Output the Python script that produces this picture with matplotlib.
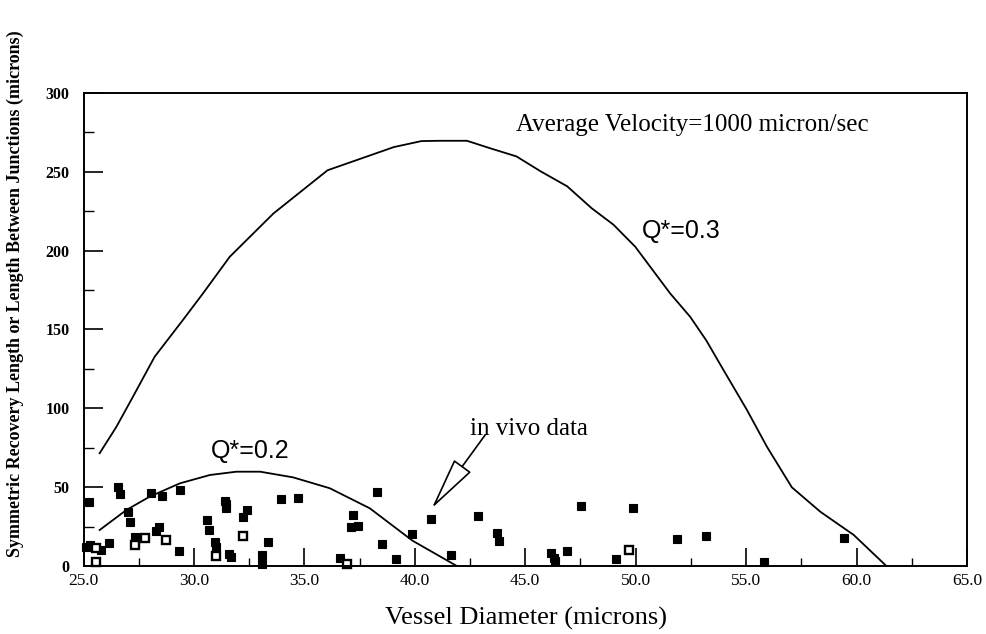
import matplotlib.pyplot as plt
from matplotlib.ticker import MultipleLocator, FormatStrFormatter

plt.rcParams['font.family'] = 'Liberation Serif'

# Q*=0.3 model curve
q3_x = [25.73, 26.49, 27.24, 28.22, 29.5, 30.41, 31.62, 33.6, 36.05, 39.05, 40.3, 41.15,
        42.36, 43.4, 44.6, 45.7, 46.9, 48.0, 49.0, 49.98, 51.56, 52.47, 53.2, 53.8,
        55.04, 55.94, 57.07, 58.36, 59.87, 61.35]
q3_y = [71.5, 88.3, 107.4, 132.7, 156.0, 172.9, 196.1, 223.6, 251.0, 265.7, 269.5, 269.7,
        269.7, 265.0, 259.8, 250.3, 240.8, 227.0, 216.4, 202.5, 172.9, 158.0, 143.0, 128.5,
        98.9, 75.7, 49.9, 34.4, 19.7, 0.0]

# Q*=0.2 model curve
q2_x = [25.73, 26.94, 28.0, 29.36, 30.72, 31.92, 33.0, 34.49, 36.15, 37.96, 39.9, 41.9]
q2_y = [22.8, 35.5, 44.0, 52.4, 57.7, 59.8, 59.8, 56.2, 49.3, 36.6, 16.0, 0.0]

# in vivo data (filled)
vivo_x = [25.25, 26.57, 26.67, 28.07, 28.57, 29.39, 27.02, 27.09, 25.1, 25.3, 25.81,
          26.16, 27.32, 28.4, 28.3, 29.33, 30.57, 30.69, 30.94, 31.02, 31.4, 31.45,
          31.47, 31.58, 31.7, 32.22, 32.41, 33.07, 33.07, 33.36, 33.92, 34.69, 36.63,
          37.2, 37.1, 37.45, 38.3, 38.52, 39.14, 39.86, 40.72, 41.63, 42.88, 43.74,
          43.8, 46.16, 46.28, 46.36, 46.88, 47.53, 49.12, 49.9, 51.87, 53.2, 55.8,
          59.45]
vivo_y = [40.8, 49.9, 45.7, 46.1, 44.6, 48.2, 34.5, 28.2, 12.0, 13.0, 10.2,
          14.4, 18.6, 25.0, 22.0, 9.8, 29.2, 22.9, 15.5, 12.3, 41.0, 39.0,
          36.6, 7.6, 5.5, 31.3, 35.5, 7.0, 1.3, 15.0, 42.5, 43.4, 5.3,
          32.5, 25.0, 25.5, 46.7, 13.8, 4.3, 20.3, 29.6, 7.0, 31.7, 21.2,
          16.1, 8.1, 4.9, 3.4, 9.5, 38.1, 4.3, 36.6, 17.0, 18.8, 2.8,
          17.6]

# in vivo data (open)
open_x = [25.58, 25.58, 27.32, 27.77, 28.75, 31.02, 32.2, 36.95, 49.72]
open_y = [11.7, 2.4, 13.4, 18.0, 16.5, 6.6, 19.3, 1.3, 9.9]

fig = plt.figure(figsize=(9.86, 6.34), dpi=100)
ax = fig.add_axes([0.0847, 0.1073, 0.896, 0.746])

ax.plot(q3_x, q3_y, 'k-', lw=1.3)
ax.plot(q2_x, q2_y, 'k-', lw=1.3)
ax.plot(vivo_x, vivo_y, 'ks', ms=5.2, mew=0.8, ls='none', clip_on=False)
ax.plot(open_x, open_y, 's', mfc='white', mec='black', ms=5.2, mew=1.7, ls='none',
        clip_on=False)

ax.set_xlim(25, 65)
ax.set_ylim(0, 300)
ax.xaxis.set_major_locator(MultipleLocator(5))
ax.xaxis.set_minor_locator(MultipleLocator(2.5))
ax.xaxis.set_major_formatter(FormatStrFormatter('%.1f'))
ax.yaxis.set_major_locator(MultipleLocator(50))
ax.yaxis.set_minor_locator(MultipleLocator(25))

ax.tick_params(axis='x', which='major', direction='in', length=13, width=1.2,
               labelsize=12.5, pad=5, top=False)
ax.tick_params(axis='x', which='minor', direction='in', length=6, width=1.0, top=False)
ax.tick_params(axis='y', which='major', direction='in', length=14, width=1.2,
               labelsize=11.5, pad=10, right=False)
ax.tick_params(axis='y', which='minor', direction='in', length=7, width=1.0, right=False)
for lab in ax.get_yticklabels():
    lab.set_fontweight('bold')
for s in ax.spines.values():
    s.set_linewidth(1.4)

fig.text(0.533, 0.0142, 'Vessel Diameter (microns)', ha='center', va='baseline',
         fontsize=19)
fig.text(0.016, 0.536, 'Symmetric Recovery Length or Length Between Junctions (microns)',
         rotation=90, ha='center', va='center', fontsize=13, fontweight='bold')

ax.text(52.56, 280, 'Average Velocity=1000 micron/sec', ha='center', va='center',
        fontsize=18)
ax.text(50.3, 208, 'Q*=0.3', ha='left', va='baseline', fontsize=18,
        family='Liberation Sans')
ax.text(32.56, 73, 'Q*=0.2', ha='center', va='center', fontsize=18,
        family='Liberation Sans')
ax.text(42.5, 83, 'in vivo data', ha='left', va='baseline', fontsize=18)
ax.annotate('', xy=(40.77, 36.6), xytext=(43.18, 83),
            arrowprops=dict(arrowstyle='-|>,head_length=3.4,head_width=0.68',
                            mutation_scale=10, fc='white', ec='black', lw=1.2,
                            shrinkA=0, shrinkB=0))

fig.savefig('out.png', dpi=100)
